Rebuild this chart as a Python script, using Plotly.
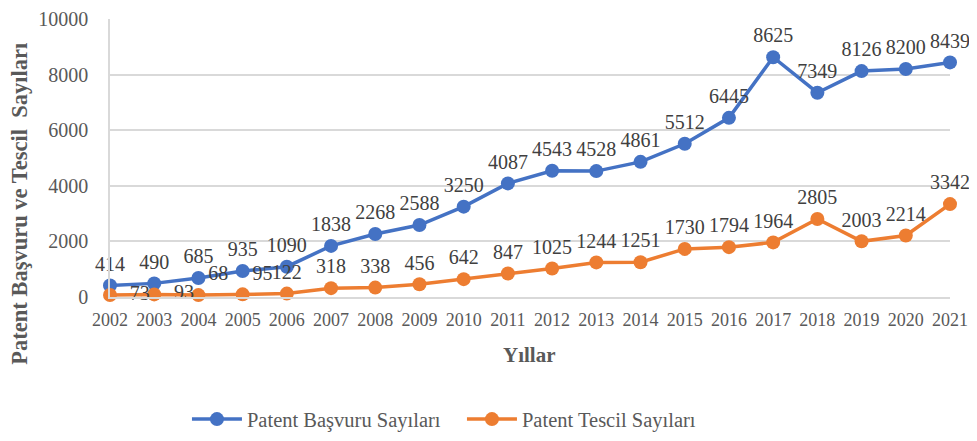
import plotly.graph_objects as go

years = [str(y) for y in range(2002, 2022)]
basvuru = [414, 490, 685, 935, 1090, 1838, 2268, 2588, 3250, 4087,
           4543, 4528, 4861, 5512, 6445, 8625, 7349, 8126, 8200, 8439]
tescil = [73, 93, 68, 95, 122, 318, 338, 456, 642, 847,
          1025, 1244, 1251, 1730, 1794, 1964, 2805, 2003, 2214, 3342]

FONT = "Liberation Serif"
GRAY = "#595959"
LABEL = "#404040"

tescil_pos = ["middle right", "middle right", "top right", "top right"] + ["top center"] * 16
NB = "\u00a0"
tescil_text = [(NB * 2 if p == "middle right" else "") + str(v)
               for v, p in zip(tescil, tescil_pos)]

fig = go.Figure()
fig.add_trace(go.Scatter(
    x=years, y=basvuru, name="Patent Başvuru Sayıları",
    mode="lines+markers+text", text=[str(v) for v in basvuru],
    textposition="top center",
    textfont=dict(family=FONT, size=20, color=LABEL),
    line=dict(color="#4472C4", width=3.5),
    marker=dict(color="#4472C4", size=14),
))
fig.add_trace(go.Scatter(
    x=years, y=tescil, name="Patent Tescil Sayıları",
    mode="lines+markers+text", text=tescil_text,
    textposition=tescil_pos,
    textfont=dict(family=FONT, size=20, color=LABEL),
    line=dict(color="#ED7D31", width=3.5),
    marker=dict(color="#ED7D31", size=14),
))

# page body has an 8px margin, so margins are shifted to compensate
fig.update_layout(
    width=977, height=441,
    margin=dict(l=102, r=35, t=11, b=152, autoexpand=False),
    plot_bgcolor="white", paper_bgcolor="white",
    font=dict(family=FONT, color=GRAY),
    showlegend=True,
    legend=dict(orientation="h", x=0.419, xanchor="center",
                y=-(400 - 297) / 280, yanchor="top",
                font=dict(family=FONT, size=20.5, color=GRAY), itemwidth=50,
                entrywidth=210, traceorder="normal"),
    xaxis=dict(type="category", range=[0, 19], showgrid=False, automargin=False,
               tickfont=dict(family=FONT, size=18, color=GRAY), ticklabelstandoff=6,
               showline=True, linecolor="#D9D9D9", linewidth=1.5, ticks=""),
    yaxis=dict(range=[0, 10000], dtick=2000, tickformat="d", showgrid=True,
               automargin=False, ticklabelstandoff=16, ticklabeloverflow="allow",
               gridcolor="#D9D9D9", gridwidth=1.5, zeroline=False,
               tickfont=dict(family=FONT, size=20, color=GRAY),
               showline=True, linecolor="#D9D9D9", linewidth=1.5, ticks=""),
    annotations=[
        dict(text="<b>Yıllar</b>", xref="paper", yref="paper",
             x=(529 - 110) / 840, y=-(355 - 297) / 280, showarrow=False,
             xanchor="center", yanchor="middle",
             font=dict(family=FONT, size=21, color=GRAY)),
        dict(text="<b>Patent Başvuru ve Tescil  Sayıları</b>", xref="paper", yref="paper",
             x=(20 - 110) / 840, y=(297 - 203) / 280, textangle=-90, showarrow=False,
             xanchor="center", yanchor="middle",
             font=dict(family=FONT, size=22.5, color=GRAY)),
    ],
)
fig.update_traces(cliponaxis=False)

fig.write_html("out.html")
